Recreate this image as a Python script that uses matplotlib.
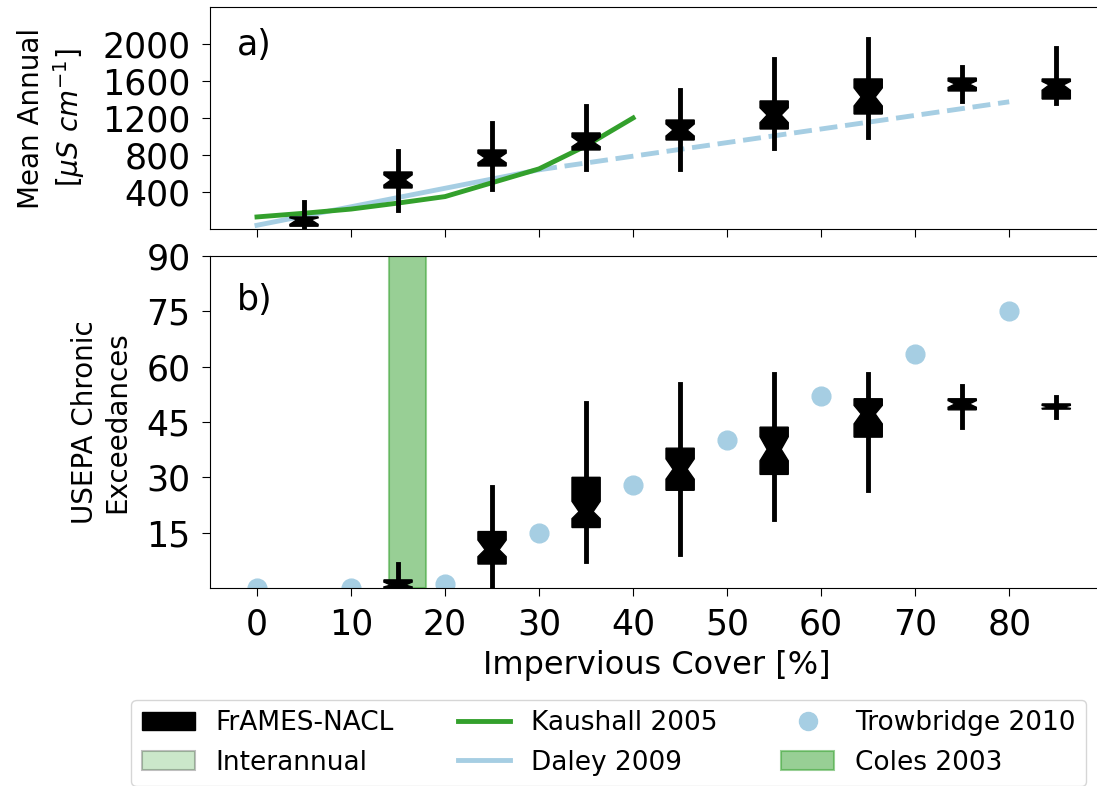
import numpy as np
import matplotlib.pyplot as plt
from matplotlib.patches import Patch
from matplotlib.lines import Line2D

# impervious cover bins (box positions).
cover_a = [5, 15, 25, 35, 45, 55, 65, 75, 85]
cover_b = [15, 25, 35, 45, 55, 65, 75, 85]

# mean annual conductance summary stats.
whislo_a = [0, 205, 432, 649, 649, 876, 995, 1384, 1362]
q1_a = [30, 443, 681, 854, 962, 1081, 1243, 1492, 1405]
med_a = [100, 530, 768, 941, 1070, 1232, 1427, 1567, 1557]
q3_a = [130, 616, 854, 1038, 1178, 1384, 1622, 1632, 1622]
whishi_a = [292, 843, 1146, 1330, 1503, 1838, 2054, 1751, 1957]
cilo_a = [50, 475, 715, 890, 1005, 1150, 1330, 1530, 1500]
cihi_a = [120, 585, 820, 995, 1135, 1310, 1525, 1600, 1595]

# chronic exceedance summary stats.
whislo_b = [0, 0, 7.4, 9.3, 18.8, 26.5, 43.6, 46.4]
q1_b = [0, 6.5, 16.4, 26.5, 30.8, 40.9, 48.3, 48.5]
med_b = [0.8, 10.4, 20.7, 32.2, 37.6, 47.2, 49.9, 49.0]
q3_b = [2.2, 15.3, 30.0, 37.9, 43.6, 51.3, 51.3, 49.9]
whishi_b = [6.5, 27.3, 50.2, 55.4, 58.1, 58.1, 54.8, 51.8]
cilo_b = [0.3, 8.5, 18.8, 29.5, 34.5, 44.5, 49.0, 48.7]
cihi_b = [1.6, 13.0, 23.5, 35.0, 41.0, 49.5, 50.8, 49.5]

# literature relationships.
kaushall_x = [0, 5, 10, 15, 20, 25, 30, 35, 40]
kaushall_y = [130, 170, 215, 280, 350, 500, 650, 900, 1200]
daley_x = [0, 30]
daley_y = [40, 640]
daley_ext_x = [30, 80]
daley_ext_y = [640, 1375]
trow_x = [0, 10, 20, 30, 40, 50, 60, 70, 80]
trow_y = [0, 0, 1, 15, 28, 40, 52, 63.5, 75]
coles_span = (14, 18)

green = '#33a02c'
lblue = '#a6cee3'
TICK_FS = 25
XLABEL_FS = 23
YLABEL_FS = 20
LEG_FS = 19


# build bxp stats dicts.
def make_stats(whislo, q1, med, q3, whishi, cilo, cihi):
    return [dict(whislo=a, q1=b, med=c, q3=d, whishi=e, cilo=f, cihi=g)
            for a, b, c, d, e, f, g in zip(whislo, q1, med, q3, whishi, cilo, cihi)]


# draw filled notched boxes.
def draw_boxes(ax, stats, pos):
    ax.bxp(stats, positions=pos, widths=3, shownotches=True, patch_artist=True,
           showcaps=False, showfliers=False, manage_ticks=False,
           boxprops=dict(facecolor='k', edgecolor='k', linewidth=1),
           whiskerprops=dict(color='k', linewidth=3.5),
           medianprops=dict(color='k', linewidth=1), zorder=3)


fig = plt.figure(figsize=(10.97, 7.86), dpi=100)
ax1 = fig.add_axes([0.1914, 0.7087, 0.8143, 0.2824])
ax2 = fig.add_axes([0.1914, 0.2519, 0.8143, 0.4224])

# panel a: mean annual conductance.
ax1.plot(kaushall_x, kaushall_y, color=green, lw=3.5, zorder=2)
ax1.plot(daley_x, daley_y, color=lblue, lw=3.5, zorder=1)
ax1.plot(daley_ext_x, daley_ext_y, color=lblue, lw=3.5, ls='--', zorder=1)
draw_boxes(ax1, make_stats(whislo_a, q1_a, med_a, q3_a, whishi_a, cilo_a, cihi_a), cover_a)
ax1.set_xlim(-5, 90)
ax1.set_ylim(0, 2400)
ax1.set_yticks([400, 800, 1200, 1600, 2000])
ax1.set_xticks(range(0, 90, 10))
ax1.tick_params(labelbottom=False, labelsize=TICK_FS, length=6, pad=8)
ax1.set_ylabel('Mean Annual\n[$\\mu S\\ cm^{-1}$]', fontsize=YLABEL_FS, labelpad=11)
ax1.text(0.03, 0.83, 'a)', transform=ax1.transAxes, fontsize=TICK_FS, va='center')

# panel b: chronic exceedances.
ax2.axvspan(*coles_span, color=green, alpha=0.5, lw=1.5, zorder=1)
ax2.plot(trow_x, trow_y, 'o', color=lblue, ms=13.5, zorder=2)
draw_boxes(ax2, make_stats(whislo_b, q1_b, med_b, q3_b, whishi_b, cilo_b, cihi_b), cover_b)
ax2.set_xlim(-5, 90)
ax2.set_ylim(0, 90)
ax2.set_yticks([15, 30, 45, 60, 75, 90])
ax2.set_xticks(range(0, 90, 10))
ax2.tick_params(labelsize=TICK_FS, length=6, pad=8)
ax2.set_ylabel('USEPA Chronic\nExceedances', fontsize=YLABEL_FS, labelpad=11)
ax2.set_xlabel('Impervious Cover [%]', fontsize=XLABEL_FS, labelpad=6)
ax2.text(0.03, 0.867, 'b)', transform=ax2.transAxes, fontsize=TICK_FS, va='center')

# legend proxies.
handles = [
    Patch(facecolor='k', edgecolor='k', label='FrAMES-NACL'),
    Patch(facecolor=green, edgecolor='k', alpha=0.25, lw=1.5, label='Interannual'),
    Line2D([], [], color=green, lw=3.5, label='Kaushall 2005'),
    Line2D([], [], color=lblue, lw=3.5, label='Daley 2009'),
    Line2D([], [], marker='o', ls='', color=lblue, ms=13, label='Trowbridge 2010'),
    Patch(facecolor=green, edgecolor=green, alpha=0.5, lw=1.5, label='Coles 2003'),
]
fig.legend(handles=handles, ncol=3, loc='lower center', bbox_to_anchor=(0.555, -0.017),
           fontsize=LEG_FS, columnspacing=2.4, handlelength=2)

fig.savefig('out.png', dpi=100)
